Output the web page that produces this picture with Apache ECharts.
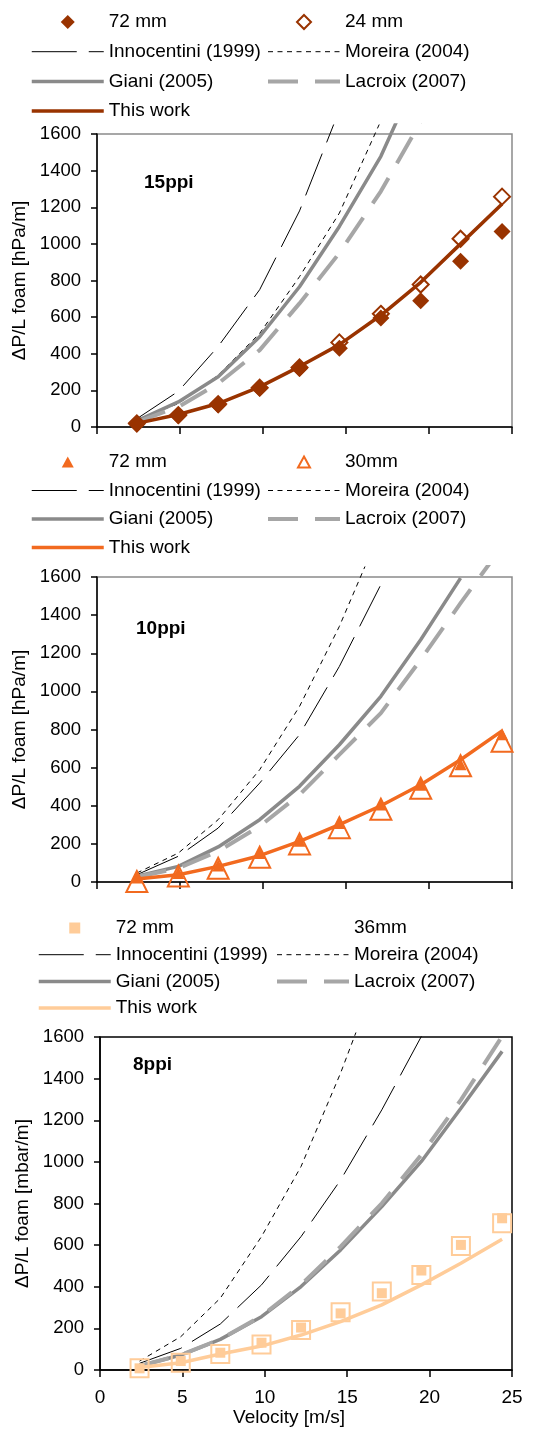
<!DOCTYPE html>
<html><head><meta charset="utf-8">
<script src="https://cdn.jsdelivr.net/npm/echarts@6/dist/echarts.min.js"></script>
<style>html,body{margin:0;padding:0;background:#fff}#c{width:534px;height:1439px}</style>
</head><body><div id="c"></div>
<script>
// ---------- data ----------
const velocity = [2.4, 4.9, 7.3, 9.8, 12.2, 14.6, 17.1, 19.5, 21.9, 24.4];
const xTicks = [0, 5, 10, 15, 20, 25];
const yTicks = [0, 200, 400, 600, 800, 1000, 1200, 1400, 1600];

// 15 ppi
const ppi15_72mm = [15, 62, 120, 212, 320, 430, 595, 690, 905, 1068];
const ppi15_24mm = [20, 65, 125, 215, 325, 462, 618, 778, 1028, 1258];
const ppi15_thisWork = [20, 68, 128, 219, 330, 450, 610, 790, 1000, 1218];
const ppi15_innocentini = [45, 195, 440, 750, 1180, 1730, 2400];
const ppi15_moreira = [40, 128, 283, 511, 821, 1168, 1672, 2250];
const ppi15_giani = [33, 137, 274, 493, 766, 1095, 1478, 1960];
const ppi15_lacroix = [27, 110, 237, 420, 675, 950, 1287, 1668, 2100];

// 10 ppi
const ppi10_72mm = [24, 47, 86, 152, 217, 309, 406, 510, 618, 775];
const ppi10_30mm = [3, 32, 72, 130, 200, 285, 382, 492, 610, 738];
const ppi10_thisWork = [16, 38, 82, 138, 213, 301, 400, 510, 641, 793];
const ppi10_innocentini = [38, 135, 283, 519, 773, 1131, 1560];
const ppi10_moreira = [47, 152, 327, 589, 921, 1341, 1850];
const ppi10_giani = [30, 82, 184, 327, 502, 720, 974, 1271, 1594];
const ppi10_lacroix = [26, 73, 161, 292, 458, 668, 886, 1166, 1463, 1760];

// 8 ppi
const ppi8_72mm = [8, 43, 83, 131, 204, 272, 369, 478, 601, 729];
const ppi8_36mm = [8, 35, 77, 123, 192, 277, 377, 457, 596, 705];
const ppi8_thisWork = [12, 35, 77, 115, 168, 232, 313, 409, 513, 628];
const ppi8_innocentini = [32, 104, 221, 409, 641, 913, 1250, 1603];
const ppi8_moreira = [43, 160, 345, 641, 978, 1427, 1950];
const ppi8_giani = [19, 72, 147, 256, 401, 577, 785, 1002, 1258, 1531];
const ppi8_lacroix = [19, 72, 147, 260, 409, 593, 801, 1034, 1298, 1603];

const panelLabels = ['15ppi', '10ppi', '8ppi'];
const yNames = ['\u0394P/L foam [hPa/m]', '\u0394P/L foam [hPa/m]', '\u0394P/L foam [mbar/m]'];
const bigName = ['72 mm', '72 mm', '72 mm'];
const smallName = ['24 mm', '30mm', '36mm'];
const refNames = ['Innocentini (1999)', 'Moreira (2004)', 'Giani (2005)', 'Lacroix (2007)', 'This work'];
const xName = 'Velocity [m/s]';

const panelData = [
  {big: ppi15_72mm, small: ppi15_24mm, fit: ppi15_thisWork, inn: ppi15_innocentini, mor: ppi15_moreira, gia: ppi15_giani, lac: ppi15_lacroix},
  {big: ppi10_72mm, small: ppi10_30mm, fit: ppi10_thisWork, inn: ppi10_innocentini, mor: ppi10_moreira, gia: ppi10_giani, lac: ppi10_lacroix},
  {big: ppi8_72mm, small: ppi8_36mm, fit: ppi8_thisWork, inn: ppi8_innocentini, mor: ppi8_moreira, gia: ppi8_giani, lac: ppi8_lacroix}
];

// ---------- style / layout ----------
const FONT = "'Liberation Sans', Arial, Helvetica, sans-serif";
// legend marker icons: a 72x14 box (two moveTo points fix the bounds) with the marker centred
const BOX = 'path://M0,0M72,14';
const legIcons = {
  diamond: BOX + 'M36,0L43,7L36,14L29,7Z',
  triangle: BOX + 'M36,1.5L42,12.5L30,12.5Z',
  rect: BOX + 'M30.5,1.5L41.5,1.5L41.5,12.5L30.5,12.5Z'
};
const layout = [
  {left: 97, right: 512, top: 134, bottom: 427, clipTop: 125, legTop: 12, legGap: 9.7, legL1: 30, legL2: 266, tx: 144, ty: 173,
   color: '#993300', sym: 'diamond', bigSize: 17, smallSize: 16, frame: '#8a8a8a', xLabels: false, nameGap: 62},
  {left: 97, right: 512, top: 577, bottom: 882, clipTop: 567, legTop: 452, legGap: 8.5, legL1: 30, legL2: 266, tx: 136, ty: 619,
   color: '#F26A1F', sym: 'triangle', bigSize: 12, smallSize: 21, frame: '#8a8a8a', xLabels: false, nameGap: 62},
  {left: 100, right: 512, top: 1037, bottom: 1370, clipTop: 1033, legTop: 918, legGap: 6.7, legL1: 37, legL2: 275, tx: 133, ty: 1055,
   color: '#FFCC99', sym: 'rect', bigSize: 10, smallSize: 18, frame: '#000', xLabels: true, nameGap: 60}
];

const pts = ys => ys.map((y, i) => [velocity[i], y]);
const fmtName = n => n.split('|')[0];
const fmtTick = v => String(v);

const grid = [], xAxis = [], yAxis = [], series = [], legend = [], title = [];

layout.forEach((L, p) => {
  const d = panelData[p];
  const tag = '|' + p;
  const ymaxClip = yTicks[yTicks.length - 1] * (L.bottom - L.clipTop) / (L.bottom - L.top);
  grid.push({left: L.left, width: L.right - L.left, top: L.top, height: L.bottom - L.top,
    show: true, borderColor: L.frame, borderWidth: 1.5, backgroundColor: 'transparent'});
  grid.push({left: L.left, width: L.right - L.left, top: L.clipTop, height: L.bottom - L.clipTop, show: false});

  xAxis.push({gridIndex: 2 * p, type: 'value', min: xTicks[0], max: xTicks[xTicks.length - 1], interval: xTicks[1] - xTicks[0],
    axisLine: {show: true, onZero: false, lineStyle: {color: '#000', width: 1.5}},
    axisTick: {show: true, length: 7, lineStyle: {color: '#000', width: 1.5}},
    axisLabel: {show: L.xLabels, margin: 18, fontSize: 19, color: '#000', fontFamily: FONT, formatter: fmtTick},
    splitLine: {show: false},
    name: L.xLabels ? xName : '', nameLocation: 'middle', nameGap: 35,
    nameTextStyle: {fontSize: 19, color: '#000', fontFamily: FONT, padding: [0, 34, 0, 0]}});
  xAxis.push({gridIndex: 2 * p + 1, type: 'value', min: xTicks[0], max: xTicks[xTicks.length - 1], show: false});

  yAxis.push({gridIndex: 2 * p, type: 'value', min: yTicks[0], max: yTicks[yTicks.length - 1], interval: yTicks[1] - yTicks[0],
    axisLine: {show: true, onZero: false, lineStyle: {color: '#000', width: 1.5}},
    axisTick: {show: true, length: 6, lineStyle: {color: '#000', width: 1.5}},
    axisLabel: {margin: 16, fontSize: 18.5, color: '#000', fontFamily: FONT, formatter: fmtTick},
    splitLine: {show: false},
    name: yNames[p], nameLocation: 'middle', nameRotate: 90, nameGap: L.nameGap,
    nameTextStyle: {fontSize: 19, color: '#000', fontFamily: FONT}});
  yAxis.push({gridIndex: 2 * p + 1, type: 'value', min: 0, max: ymaxClip, show: false});

  const xi = 2 * p + 1;
  series.push({type: 'scatter', name: bigName[p] + tag, xAxisIndex: xi, yAxisIndex: xi, data: pts(d.big),
    symbol: L.sym, symbolSize: L.bigSize, itemStyle: {color: L.color, opacity: 1}, z: 3, animation: false});
  series.push({type: 'scatter', name: smallName[p] + tag, xAxisIndex: xi, yAxisIndex: xi, data: pts(d.small),
    symbol: L.sym, symbolSize: L.smallSize,
    itemStyle: {color: 'rgba(255,255,255,0)', borderColor: L.color, borderWidth: 2, opacity: 1}, z: 2, animation: false});

  const lineDefs = [
    {name: refNames[0], data: d.inn, color: '#000', width: 1, type: [45, 12]},
    {name: refNames[1], data: d.mor, color: '#000', width: 1, type: [5, 4.5]},
    {name: refNames[2], data: d.gia, color: '#8a8a8a', width: 3.5, type: 'solid'},
    {name: refNames[3], data: d.lac, color: '#a6a6a6', width: 4, type: [30, 17]},
    {name: refNames[4], data: d.fit, color: L.color, width: 3.5, type: 'solid'}
  ];
  lineDefs.forEach(s => {
    series.push({type: 'line', name: s.name + tag, xAxisIndex: xi, yAxisIndex: xi, data: pts(s.data),
      symbol: 'none', showSymbol: false, clip: true, animation: false, z: 2,
      lineStyle: {color: s.color, width: s.width, type: s.type}, itemStyle: {color: s.color}});
  });

  const lineItem = s => ({name: s.name + tag, itemStyle: {opacity: 0}, lineStyle: {width: s.width, type: s.type, color: s.color}});
  const legBase = {orient: 'vertical', top: L.legTop, itemGap: L.legGap, itemWidth: 72, itemHeight: 14, padding: 0,
    selectedMode: false, formatter: fmtName,
    textStyle: {fontSize: 19, color: '#000', fontFamily: FONT, lineHeight: 20}};
  legend.push(Object.assign({}, legBase, {left: L.legL1, data: [
    {name: bigName[p] + tag, icon: legIcons[L.sym], itemStyle: {color: L.color, borderWidth: 0, opacity: 1}},
    lineItem(lineDefs[0]), lineItem(lineDefs[2]), lineItem(lineDefs[4])
  ]}));
  legend.push(Object.assign({}, legBase, {left: L.legL2, data: [
    p === 2 ? {name: smallName[p] + tag, icon: legIcons[L.sym], itemStyle: {opacity: 0}}
            : {name: smallName[p] + tag, icon: legIcons[L.sym], itemStyle: {color: '#fff', borderColor: L.color, borderWidth: 2, opacity: 1}},
    lineItem(lineDefs[1]), lineItem(lineDefs[3])
  ]}));

  title.push({text: panelLabels[p], left: L.tx, top: L.ty, padding: 0,
    textStyle: {fontSize: 19, fontWeight: 'bold', color: '#000', fontFamily: FONT, lineHeight: 20}});
});

const chart = echarts.init(document.getElementById('c'), null, {renderer: 'canvas'});
chart.setOption({backgroundColor: '#fff', animation: false, title, legend, grid, xAxis, yAxis, series});
</script>
</body></html>
